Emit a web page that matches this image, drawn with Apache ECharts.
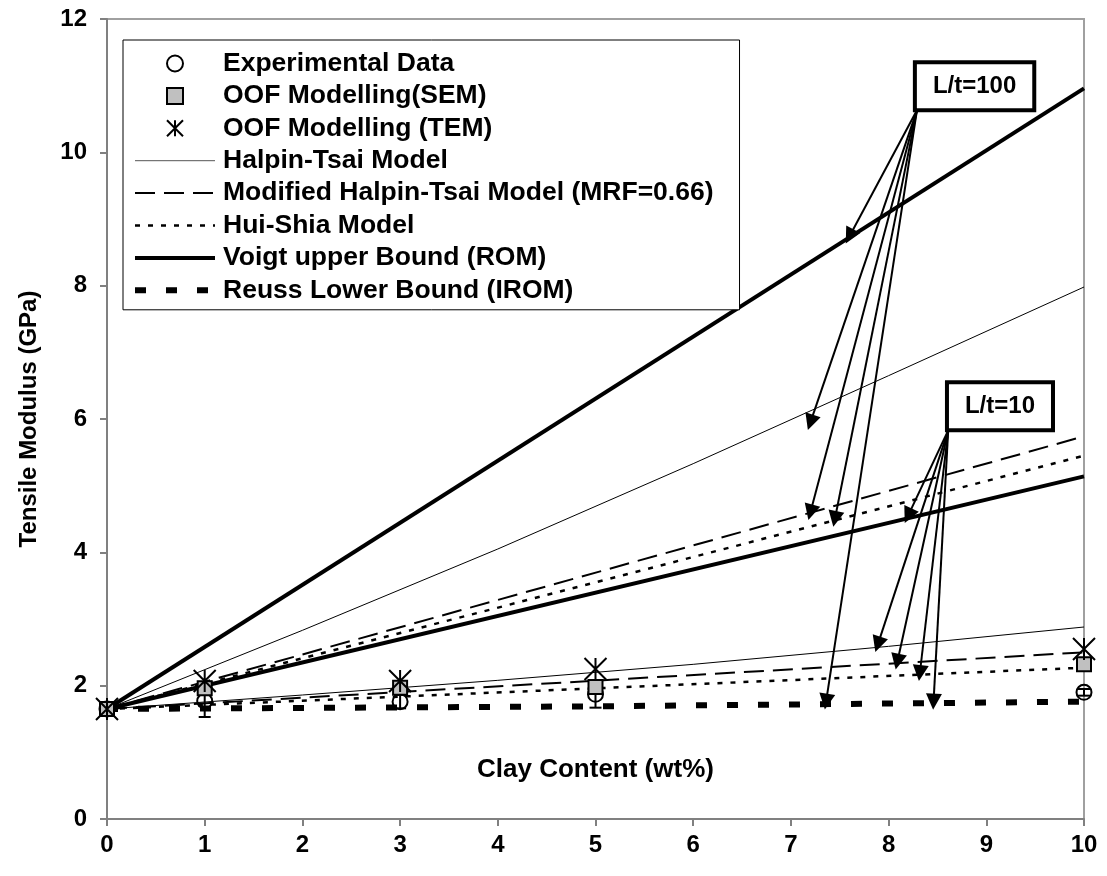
<!DOCTYPE html>
<html>
<head>
<meta charset="utf-8">
<script src="https://cdn.jsdelivr.net/npm/echarts@6/dist/echarts.min.js"></script>
<style>
  html, body { margin: 0; padding: 0; background: #fff; }
  #chart { width: 1107px; height: 876px; }
</style>
</head>
<body>
<div id="chart"></div>
<script>
// measured points (clay wt%)
const clay = [0, 1, 3, 5, 10];
const expMean = [1.65, 1.77, 1.76, 1.87, 1.90];
const expErr = [0, 0.24, 0.10, 0.20, 0.05];
const oofSem = [1.65, 1.96, 1.97, 1.98, 2.32];
const oofTem = [1.65, 2.07, 2.07, 2.25, 2.55];

// model curves
const lineX = [0, 10];
const curveX = [0, 2, 4, 6, 8, 10];
const reussX = [0, 5, 10];
const halpin100 = [1.65, 2.83, 4.05, 5.33, 6.65, 7.98];
const halpin10 = [1.65, 1.86, 2.08, 2.32, 2.59, 2.88];
const modHalpin100 = [1.65, 5.74];
const modHalpin10 = [1.65, 2.50];
const huiShia100 = [1.65, 5.45];
const huiShia10 = [1.65, 2.27];
const voigt100 = [1.65, 10.96];
const voigt10 = [1.65, 5.14];
const reuss = [1.65, 1.69, 1.76];

// annotations
const boxLabels = ['L/t=100', 'L/t=10'];
const boxAt = [[8.88, 10.99], [9.14, 6.19]];
const arrowFrom = [[8.29, 10.63], [8.61, 5.83]];
const arrowTo100 = [[7.6, 8.74], [7.2, 5.95], [7.2, 4.6], [7.45, 4.5], [7.36, 1.76]];
const arrowTo10 = [[7.89, 2.62], [8.09, 2.36], [8.32, 2.19], [8.2, 4.55], [8.46, 1.76]];

const xTicks = { min: 0, max: 10, interval: 1 };
const yTicks = { min: 0, max: 12, interval: 2 };

const FONT = "'Liberation Sans', Arial, sans-serif";
const pairs = (xs, ys) => xs.map((x, i) => [x, ys[i]]);

const NAMES = {
  exp: 'Experimental Data',
  sem: 'OOF Modelling(SEM)',
  tem: 'OOF Modelling (TEM)',
  ht: 'Halpin-Tsai Model',
  mht: 'Modified Halpin-Tsai Model (MRF=0.66)',
  hs: 'Hui-Shia Model',
  voigt: 'Voigt upper Bound (ROM)',
  reuss: 'Reuss Lower Bound (IROM)'
};

const thin = { width: 1, type: 'solid' };
const dashed = { width: 2, type: [20, 9] };
const dotted = { width: 2.5, type: [5, 8] };
const thick = { width: 4, type: 'solid' };
const thickDash = { width: 6, type: [11, 20] };

function modelLine(name, xs, ys, style) {
  return {
    name, type: 'line', data: pairs(xs, ys), symbol: 'none', silent: true, z: 2,
    lineStyle: Object.assign({ color: '#000' }, style),
    itemStyle: { color: '#000' }
  };
}

// line entries in the legend: no dot in the middle, full line width
const lineEntry = (name, style) => ({
  name,
  itemStyle: { opacity: 0 },
  lineStyle: Object.assign({ color: '#000', opacity: 1 }, style)
});

const asterisk = 'path://M0,0L20,20M20,0L0,20M10,0L10,20';
const square = 'path://M0,0H10V10H0Z';

const chart = echarts.init(document.getElementById('chart'));

chart.setOption({
  animation: false,
  textStyle: { fontFamily: FONT },
  grid: {
    left: 107, right: 23, top: 19, bottom: 57,
    show: true, borderColor: '#a0a0a0', borderWidth: 2,
    containLabel: false, outerBoundsMode: 'none'
  },
  legend: {
    orient: 'vertical', left: 123, top: 40,
    data: [
      NAMES.exp,
      { name: NAMES.sem, icon: square },
      NAMES.tem,
      lineEntry(NAMES.ht, Object.assign({}, thin, { color: '#555' })),
      lineEntry(NAMES.mht, dashed),
      lineEntry(NAMES.hs, dotted),
      lineEntry(NAMES.voigt, thick),
      lineEntry(NAMES.reuss, thickDash)
    ],
    itemWidth: 80, itemHeight: 16, itemGap: 5.4,
    padding: [10, 26, 6, 9],
    backgroundColor: '#fff', borderColor: '#000', borderWidth: 1,
    selectedMode: false,
    textStyle: { fontSize: 26.5, fontWeight: 'bold', color: '#000', lineHeight: 26, fontFamily: FONT, padding: [0, 0, 0, 3] }
  },
  xAxis: {
    type: 'value', ...xTicks,
    name: 'Clay Content (wt%)', nameLocation: 'middle', nameGap: -62,
    nameTextStyle: { fontSize: 26, fontWeight: 'bold', color: '#000', fontFamily: FONT },
    axisLine: { show: true, lineStyle: { color: '#808080', width: 2 } },
    axisTick: { show: true, inside: false, length: 7, lineStyle: { color: '#808080', width: 2 } },
    axisLabel: { fontSize: 24, fontWeight: 'bold', color: '#000', margin: 14, fontFamily: FONT },
    splitLine: { show: false }
  },
  yAxis: {
    type: 'value', ...yTicks,
    name: 'Tensile Modulus (GPa)', nameLocation: 'middle', nameGap: 66, nameRotate: 90,
    nameTextStyle: { fontSize: 24, fontWeight: 'bold', color: '#000', fontFamily: FONT },
    axisLine: { show: true, lineStyle: { color: '#808080', width: 2 } },
    axisTick: { show: true, inside: false, length: 7, lineStyle: { color: '#808080', width: 2 } },
    axisLabel: { fontSize: 24, fontWeight: 'bold', color: '#000', margin: 20, fontFamily: FONT },
    splitLine: { show: false }
  },
  series: [
    modelLine(NAMES.reuss, reussX, reuss, thickDash),
    modelLine(NAMES.ht, curveX, halpin100, thin),
    modelLine(NAMES.ht, curveX, halpin10, thin),
    modelLine(NAMES.mht, lineX, modHalpin100, dashed),
    modelLine(NAMES.mht, lineX, modHalpin10, dashed),
    modelLine(NAMES.hs, lineX, huiShia100, dotted),
    modelLine(NAMES.hs, lineX, huiShia10, dotted),
    modelLine(NAMES.voigt, lineX, voigt100, thick),
    modelLine(NAMES.voigt, lineX, voigt10, thick),
    {
      // error bars of the experimental data
      type: 'custom', silent: true, z: 3,
      data: clay.map((c, i) => [c, expMean[i], expErr[i]]),
      encode: { x: 0, y: 1 },
      renderItem: (params, api) => {
        const x = api.value(0), m = api.value(1), e = api.value(2);
        if (!e) return;
        const top = api.coord([x, m + e]);
        const bot = api.coord([x, m - e]);
        const w = 6;
        const st = { stroke: '#000', lineWidth: 2 };
        return {
          type: 'group',
          children: [
            { type: 'line', shape: { x1: top[0], y1: top[1], x2: bot[0], y2: bot[1] }, style: st },
            { type: 'line', shape: { x1: top[0] - w, y1: top[1], x2: top[0] + w, y2: top[1] }, style: st },
            { type: 'line', shape: { x1: bot[0] - w, y1: bot[1], x2: bot[0] + w, y2: bot[1] }, style: st }
          ]
        };
      }
    },
    {
      name: NAMES.exp, type: 'scatter', z: 4, silent: true,
      data: pairs(clay, expMean),
      symbol: 'circle', symbolSize: 15,
      itemStyle: { color: 'transparent', borderColor: '#000', borderWidth: 2, opacity: 1 }
    },
    {
      name: NAMES.sem, type: 'scatter', z: 4, silent: true,
      data: pairs(clay, oofSem),
      symbol: 'rect', symbolSize: 14,
      itemStyle: { color: '#c0c0c0', borderColor: '#000', borderWidth: 2, opacity: 1 }
    },
    {
      name: NAMES.tem, type: 'scatter', z: 5, silent: true,
      data: pairs(clay, oofTem),
      symbol: asterisk, symbolSize: 22, symbolKeepAspect: true,
      itemStyle: { color: 'transparent', borderColor: '#000', borderWidth: 2, opacity: 1 }
    },
    {
      // arrows from the L/t boxes
      type: 'line', data: [], z: 6, silent: true,
      markLine: {
        silent: true, animation: false,
        symbol: ['none', 'triangle'], symbolSize: 16,
        lineStyle: { color: '#000', width: 2, type: 'solid' },
        itemStyle: { color: '#000' },
        label: { show: false },
        emphasis: { disabled: true },
        data: [
          ...arrowTo100.map(t => [{ coord: arrowFrom[0] }, { coord: t }]),
          ...arrowTo10.map(t => [{ coord: arrowFrom[1] }, { coord: t }])
        ]
      }
    },
    {
      type: 'scatter', z: 10, silent: true,
      symbolSize: 1,
      itemStyle: { color: 'transparent', opacity: 1 },
      data: boxAt.map((p, i) => ({ value: p, label: { formatter: boxLabels[i] } })),
      label: {
        show: true, position: 'inside', opacity: 1,
        fontSize: 24, fontWeight: 'bold', color: '#000', fontFamily: FONT,
        textBorderWidth: 0, textBorderColor: 'transparent',
        backgroundColor: '#fff', borderColor: '#000', borderWidth: 4,
        padding: [10, 16]
      }
    }
  ]
});
</script>
</body>
</html>
